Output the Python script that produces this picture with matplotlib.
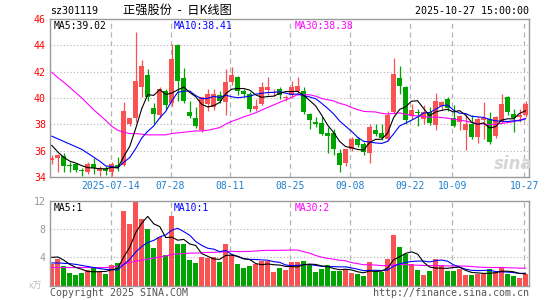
import numpy as np
import matplotlib
matplotlib.use("Agg")
import matplotlib.pyplot as plt

# ============================================
# Data
# ============================================
opens = [35.3, 35.45, 35.6, 34.9, 34.95, 34.5, 34.35, 35.0, 34.45, 34.6,
         34.35, 34.9, 34.9, 38.05, 38.5, 40.8, 41.75, 39.25, 38.7, 40.55,
         39.6, 44.05, 41.55, 38.95, 38.45, 37.6, 39.55, 39.3, 40.2, 39.7,
         41.25, 41.6, 40.55, 40.3, 39.2, 39.55, 40.6, 40.35, 40.65, 40.0,
         40.2, 40.55, 40.55, 38.8, 38.15, 38.1, 37.35, 37.35, 35.8, 35.05,
         36.15, 36.9, 36.5, 35.85, 37.6, 37.35, 36.85, 38.9, 41.5, 40.85,
         38.6, 38.95, 38.4, 38.95, 37.95, 39.4, 39.9, 38.5, 38.2, 37.55,
         38.05, 37.05, 38.35, 38.4, 37.1, 38.2, 40.1, 38.8, 38.55, 38.7]
highs = [35.7, 35.75, 35.85, 35.15, 35.0, 34.65, 35.15, 35.45, 34.8, 34.85,
         35.15, 35.55, 39.7, 38.5, 45.0, 42.85, 42.2, 39.6, 40.8, 40.7,
         44.1, 44.1, 42.3, 39.8, 39.3, 40.1, 40.7, 40.7, 40.5, 42.2,
         42.35, 41.65, 40.7, 40.45, 39.9, 41.2, 41.6, 40.7, 40.8, 40.25,
         41.3, 41.6, 40.8, 38.85, 38.55, 38.55, 37.8, 37.65, 36.15, 36.1,
         37.05, 37.05, 36.65, 38.05, 38.05, 38.05, 39.05, 43.05, 42.45, 40.9,
         39.55, 39.2, 39.45, 39.3, 40.4, 39.8, 40.1, 39.45, 38.7, 38.8,
         38.7, 38.55, 39.7, 38.95, 38.65, 40.3, 40.15, 39.2, 39.2, 39.75]
lows = [35.0, 34.4, 34.4, 34.4, 34.4, 34.05, 34.2, 34.2, 34.05, 34.15,
        34.05, 34.45, 34.8, 37.9, 38.2, 40.1, 39.8, 38.05, 38.5, 39.2,
        39.4, 39.8, 39.6, 38.5, 37.75, 37.45, 39.05, 39.1, 39.6, 38.7,
        41.0, 40.2, 40.05, 38.9, 39.05, 39.45, 40.2, 40.15, 39.95, 39.75,
        40.0, 40.2, 38.8, 37.65, 37.8, 37.2, 35.85, 35.7, 34.35, 34.8,
        36.0, 36.3, 35.65, 35.05, 37.1, 36.8, 36.7, 38.8, 40.3, 38.05,
        38.4, 37.9, 38.05, 37.95, 37.55, 39.1, 39.0, 37.8, 37.55, 36.05,
        36.9, 36.55, 36.85, 36.5, 37.0, 38.1, 38.7, 37.45, 38.2, 38.55]
closes = [35.45, 35.7, 34.8, 34.85, 34.5, 34.45, 34.95, 34.65, 34.6, 34.45,
          35.0, 34.75, 39.0, 38.45, 41.3, 42.45, 40.05, 38.75, 40.65, 39.45,
          42.95, 41.3, 39.8, 38.6, 37.85, 40.05, 40.3, 40.3, 39.8, 41.2,
          41.75, 40.55, 40.3, 39.2, 39.4, 40.8, 40.85, 40.45, 40.25, 40.1,
          40.8, 40.9, 38.95, 38.3, 38.05, 37.3, 37.1, 36.15, 34.9, 36.1,
          36.9, 36.4, 35.9, 37.8, 37.3, 36.95, 38.7, 41.8, 40.9, 38.3,
          39.1, 38.85, 38.9, 38.1, 39.75, 39.7, 39.25, 37.9, 38.6, 38.05,
          37.05, 38.4, 38.45, 36.65, 38.55, 39.55, 38.9, 38.45, 38.7, 39.55]

# volume, 万手
volume = [3.1, 3.75, 2.75, 1.8, 1.45, 1.8, 2.15, 2.55, 1.9, 1.6,
          2.9, 3.2, 10.65, 8.8, 12.1, 9.5, 8.05, 5.35, 6.85, 4.3,
          9.8, 5.85, 5.95, 3.6, 3.2, 4.05, 3.95, 4.05, 3.35, 5.95,
          4.3, 3.0, 2.45, 2.75, 3.1, 3.5, 3.5, 1.9, 2.5, 2.15,
          3.35, 3.35, 3.45, 2.9, 1.9, 2.3, 2.9, 2.05, 2.05, 2.3,
          1.75, 1.6, 1.3, 3.35, 2.05, 1.9, 3.75, 7.2, 5.5, 4.45,
          3.0, 2.15, 1.45, 2.05, 3.75, 2.9, 2.05, 2.05, 2.3, 1.45,
          1.45, 1.7, 1.7, 2.3, 1.9, 2.55, 1.7, 1.3, 1.1, 1.7]

# moving-average values at the left edge (history not shown on the chart)
ma5_head = [36.4, 35.9, 35.5, 35.2]
ma10_head = [37.1, 36.9, 36.7, 36.5, 36.3, 36.1, 35.8, 35.5, 35.2]
ma30_head = [41.95, 41.55, 41.2, 40.8, 40.4, 40.0, 39.55, 39.1, 38.7, 38.3,
             37.85, 37.55, 37.4, 37.3, 37.3, 37.25, 37.2, 37.2, 37.2, 37.2,
             37.3, 37.35, 37.4, 37.45, 37.5, 37.5, 37.55, 37.65, 37.75]
vma5_head = [4.0, 4.05, 3.6, 3.0]
vma10_head = [3.2, 3.2, 3.15, 3.1, 3.0, 2.85, 2.7, 2.55, 2.4]
vma30_head = [2.55, 2.55, 2.55, 2.55, 2.55, 2.55, 2.55, 2.55, 2.55, 2.55,
              2.6, 2.75, 3.0, 3.3, 3.45, 3.6, 3.75, 3.9, 4.05, 4.2,
              4.4, 4.5, 4.55, 4.6, 4.6, 4.65, 4.7, 4.7, 4.75]

tick_idx = [10, 20, 30, 40, 50, 60, 67, 79]
tick_labels = ["2025-07-14", "07-28", "08-11", "08-25", "09-08",
               "09-22", "10-09", "10-27"]
price_ticks = [34, 36, 38, 40, 42, 44, 46]
vol_ticks = [4, 8, 12]

# ============================================
# Helpers
# ============================================
W, H = 545, 300
RED = "#fa5252"
GREEN = "#00a400"
GRID = "#b4b4b4"
EDGE = "#9a9a9a"
MONO = ["DejaVu Sans Mono"]
CJK = ["Noto Sans CJK SC", "DejaVu Sans"]


def rect(x0, y0, x1, y1):
    return [x0 / W, 1 - y1 / H, (x1 - x0) / W, (y1 - y0) / H]


def fx(x):
    return x / W


def fy(y):
    return 1 - y / H


def moving(values, n, head):
    s = np.convolve(values, np.ones(n) / n, mode="valid")
    return np.concatenate([head, s])


o = np.array(opens)
c = np.array(closes)
hi = np.array(highs)
lo = np.array(lows)
v = np.array(volume)
idx = np.arange(len(c))
up = c >= o
colors = np.where(up, RED, GREEN)

ma5 = moving(c, 5, ma5_head)
ma10 = moving(c, 10, ma10_head)
ma30 = moving(c, 30, ma30_head)
vma5 = moving(v, 5, vma5_head)
vma10 = moving(v, 10, vma10_head)
vma30 = moving(v, 30, vma30_head)

xlim = (-0.3, 79.58)
grid_x = np.array(tick_idx) - 0.2

fig = plt.figure(figsize=(W / 100, H / 100), dpi=100)
fig.patch.set_facecolor("white")

# ============================================
# Price panel
# ============================================
ax = fig.add_axes(rect(50, 19, 529, 177))
ax.set_xlim(*xlim)
ax.set_ylim(34, 46)

for p in price_ticks[1:-1]:
    ax.axhline(p, color=GRID, lw=0.8, ls=(0, (1, 2)), zorder=0)
for gx in grid_x:
    ax.axvline(gx, color=GRID, lw=0.9, ls=(0, (4, 3)), zorder=0)

ax.vlines(idx, lo, hi, colors=colors, lw=0.9, zorder=2)
body = np.maximum(np.abs(c - o), 0.05)
ax.bar(idx, body, bottom=np.minimum(o, c), width=0.8, color=colors,
       linewidth=0, zorder=3)

ax.plot(idx, ma30, color="#ff00ff", lw=0.8, zorder=4)
ax.plot(idx, ma10, color="#0000ff", lw=0.8, zorder=4)
ax.plot(idx, ma5, color="black", lw=0.8, zorder=4)

ax.set_yticks(price_ticks)
ax.set_yticklabels([str(p) for p in price_ticks], color="red",
                   family=MONO, fontsize=7.2)
ax.set_xticks(grid_x)
ax.set_xticklabels(tick_labels, color="#1f7fcf", family=MONO, fontsize=7)
ax.tick_params(length=0, pad=3)
for s in ax.spines.values():
    s.set_color(EDGE)
    s.set_linewidth(1)

ax.text(0.008, 0.985, "MA5:39.02", transform=ax.transAxes, va="top",
        family=MONO, fontsize=7, color="black")
ax.text(0.259, 0.985, "MA10:38.41", transform=ax.transAxes, va="top",
        family=MONO, fontsize=7, color="#0000ff")
ax.text(0.511, 0.985, "MA30:38.38", transform=ax.transAxes, va="top",
        family=MONO, fontsize=7, color="#ff00ff")

# sina watermark
fig.text(fx(513), fy(164), "sina", ha="center", va="center",
         fontsize=12, fontweight="bold", fontstyle="italic",
         family=["DejaVu Sans"], color="#d6d6d6")

# ============================================
# Volume panel
# ============================================
axv = fig.add_axes(rect(50, 201, 529, 285.5))
axv.set_xlim(*xlim)
axv.set_ylim(0, 12)

for p in vol_ticks[:-1]:
    axv.axhline(p, color=GRID, lw=0.8, ls=(0, (1, 2)), zorder=0)
for gx in grid_x:
    axv.axvline(gx, color=GRID, lw=0.9, ls=(0, (4, 3)), zorder=0)

axv.bar(idx, v, width=0.82, color=colors, linewidth=0, zorder=2)
axv.plot(idx, vma30, color="#ff00ff", lw=0.8, zorder=4)
axv.plot(idx, vma10, color="#0000ff", lw=0.8, zorder=4)
axv.plot(idx, vma5, color="black", lw=0.8, zorder=4)

axv.set_yticks(vol_ticks)
axv.set_yticklabels([str(t) for t in vol_ticks], color="#999999",
                    family=MONO, fontsize=7.2)
axv.set_xticks([])
axv.tick_params(length=0, pad=3)
for s in axv.spines.values():
    s.set_color(EDGE)
    s.set_linewidth(1)

axv.text(0.008, 0.98, "MA5:1", transform=axv.transAxes, va="top",
         family=MONO, fontsize=7, color="black")
axv.text(0.259, 0.98, "MA10:1", transform=axv.transAxes, va="top",
         family=MONO, fontsize=7, color="#0000ff")
axv.text(0.511, 0.98, "MA30:2", transform=axv.transAxes, va="top",
         family=MONO, fontsize=7, color="#ff00ff")

# ============================================
# Header / footer text
# ============================================
fig.text(fx(50), fy(11), "sz301119", ha="left", va="center",
         family=MONO, fontsize=7.2, color="black")
fig.text(fx(177), fy(10), "正强股份  -  日K线图", ha="center", va="center",
         family=CJK, fontsize=8.8, color="black")
fig.text(fx(529), fy(11), "2025-10-27 15:00:00", ha="right", va="center",
         family=MONO, fontsize=7.2, color="black")
fig.text(fx(36), fy(286), "x万", ha="center", va="center",
         family=CJK, fontsize=6.5, color="#bbbbbb")
fig.text(fx(50), fy(293), "Copyright 2025 SINA.COM", ha="left",
         va="center", family=MONO, fontsize=7.2, color="#555555")
fig.text(fx(529), fy(293), "http://finance.sina.com.cn", ha="right",
         va="center", family=MONO, fontsize=7.2, color="#555555")

fig.savefig("out.png", dpi=100)
